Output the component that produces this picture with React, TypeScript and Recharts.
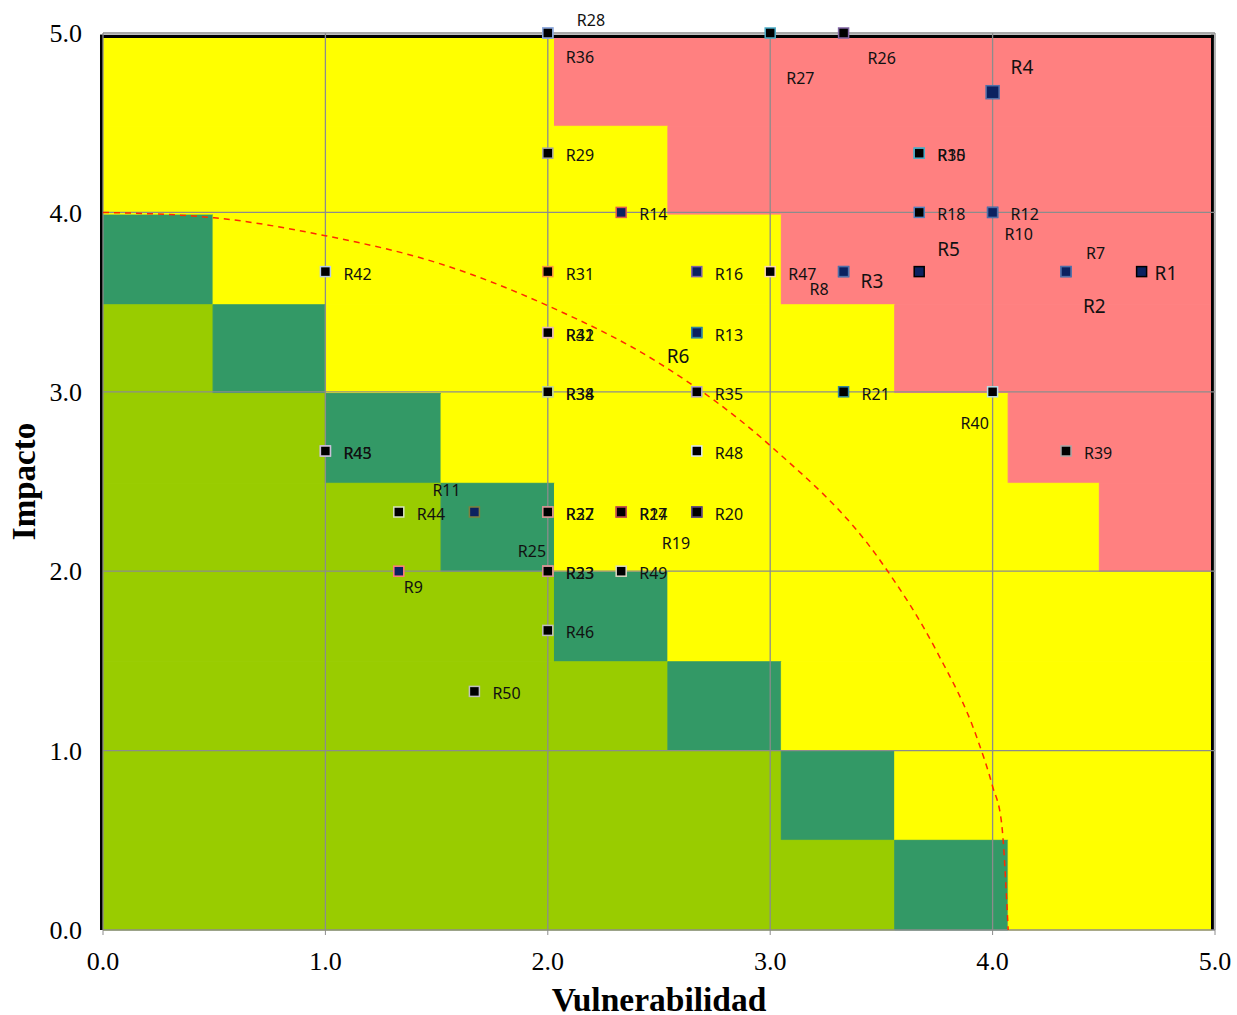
import React from 'react'
import {
  ScatterChart,
  Scatter,
  XAxis,
  YAxis,
  ReferenceArea,
  ReferenceLine,
  Label,
} from 'recharts'

// riesgos: vulnerabilidad (x) e impacto (y)
const riskNames = [
  'R1', 'R2', 'R3', 'R4', 'R5', 'R6', 'R7', 'R8', 'R9', 'R10',
  'R11', 'R12', 'R13', 'R14', 'R15', 'R16', 'R17', 'R18', 'R19', 'R20',
  'R21', 'R22', 'R23', 'R24', 'R25', 'R26', 'R27', 'R28', 'R29', 'R30',
  'R31', 'R32', 'R33', 'R34', 'R35', 'R36', 'R37', 'R38', 'R39', 'R40',
  'R41', 'R42', 'R43', 'R44', 'R45', 'R46', 'R47', 'R48', 'R49', 'R50',
]
const vulnerabilidad = [
  4.67, 4.33, 3.33, 4.0, 3.67, 2.67, 4.33, 3.33, 1.33, 4.0,
  1.67, 4.0, 2.67, 2.33, 3.67, 2.67, 2.33, 3.67, 2.67, 2.67,
  3.33, 2.0, 2.0, 2.33, 2.0, 3.33, 3.0, 2.0, 2.0, 3.67,
  2.0, 2.0, 2.0, 2.0, 2.67, 2.0, 2.0, 2.0, 4.33, 4.0,
  2.0, 1.0, 1.0, 1.33, 1.0, 2.0, 3.0, 2.67, 2.33, 1.67,
]
const impacto = [
  3.67, 3.67, 3.67, 4.67, 3.67, 3.33, 3.67, 3.67, 2.0, 4.0,
  2.33, 4.0, 3.33, 4.0, 4.33, 3.67, 2.33, 4.0, 2.33, 2.33,
  3.0, 2.33, 2.0, 2.33, 2.0, 5.0, 5.0, 5.0, 4.33, 4.33,
  3.67, 3.33, 2.0, 3.0, 3.0, 5.0, 2.33, 3.0, 2.67, 3.0,
  3.33, 3.67, 2.67, 2.33, 2.67, 1.67, 3.67, 2.67, 2.0, 1.33,
]

// curva de tolerancia
const curveVuln = [0, 0.5, 1.0, 1.5, 2.0, 2.5, 3.0, 3.5, 3.75, 3.93, 4.0, 4.04, 4.07]
const curveImp = [4.0, 3.97, 3.87, 3.72, 3.48, 3.16, 2.7, 2.05, 1.55, 1.07, 0.8, 0.6, 0.0]

// zonas de fondo: bordes de columnas/filas y codigo de cada celda (fila de arriba primero)
const zoneColEdges = [0, 0.495, 1.0, 1.52, 2.03, 2.54, 3.05, 3.56, 4.07, 4.48, 4.985]
const zoneRowEdges = [4.975, 4.48, 3.985, 3.485, 2.99, 2.49, 1.995, 1.495, 1.0, 0.5, 0]
const zoneRows = [
  'YYYYRRRRRR',
  'YYYYYRRRRR',
  'DYYYYYRRRR',
  'GDYYYYYRRR',
  'GGDYYYYYRR',
  'GGGDYYYYYR',
  'GGGGDYYYYY',
  'GGGGGDYYYY',
  'GGGGGGDYYY',
  'GGGGGGGDYY',
]

const axisTicks = [0, 1, 2, 3, 4, 5]

const zoneColors: Record<string, string> = {
  Y: '#FFFF00',
  R: '#FF8080',
  G: '#99CC00',
  D: '#339966',
}

const NAVY = '#0B2160'
const GRID = '#8C8C8C'

const markerLook: Record<string, [string, string]> = {
  R1: [NAVY, '#000000'], R2: [NAVY, '#4F6FA8'], R3: [NAVY, '#4F6FA8'],
  R4: [NAVY, '#4F6FA8'], R5: [NAVY, '#000000'], R6: [NAVY, '#31859C'],
  R7: [NAVY, '#4F6FA8'], R8: [NAVY, '#4F6FA8'], R9: [NAVY, '#FF7C80'],
  R10: [NAVY, '#4F6FA8'], R11: [NAVY, '#7F7F3F'], R12: [NAVY, '#4F6FA8'],
  R13: [NAVY, '#31859C'], R14: [NAVY, '#E05A4F'], R15: ['#000', '#4BACC6'],
  R16: [NAVY, '#8064A2'], R17: ['#000', '#C0504D'], R18: ['#000', '#4F81BD'],
  R19: ['#000', '#604A7B'], R20: ['#000', '#604A7B'], R21: ['#000', '#31859C'],
  R22: ['#000', '#D99694'], R23: ['#000', '#D99694'], R24: ['#000', '#C0504D'],
  R25: ['#000', '#D99694'], R26: ['#000', '#8064A2'], R27: ['#000', '#4BACC6'],
  R28: ['#000', '#8EA9DB'], R29: ['#000', '#A6A6A6'], R30: ['#000', '#4BACC6'],
  R31: ['#000', '#F79646'], R32: ['#000', '#E6B9B8'], R33: ['#000', '#D99694'],
  R34: ['#000', '#C4D79B'], R35: ['#000', '#B3A2C7'], R36: ['#000', '#8EA9DB'],
  R37: ['#000', '#D99694'], R38: ['#000', '#C4D79B'], R39: ['#000', '#A6A6A6'],
  R40: ['#000', '#B7DEE8'], R41: ['#000', '#E6B9B8'], R42: ['#000', '#B9CDE5'],
  R43: ['#000', '#CCC0DA'], R44: ['#000', '#D7E4BD'], R45: ['#000', '#CCC0DA'],
  R46: ['#000', '#BFBFBF'], R47: ['#000', '#FCD5B5'], R48: ['#000', '#DCE6F2'],
  R49: ['#000', '#DDD9C3'], R50: ['#000', '#BFBFBF'],
}

// desplazamiento de etiquetas en px (dx hasta borde izq., dy hasta centro)
const labelOffset: Record<string, [number, number]> = {
  R1: [13, 1], R2: [17, 34], R3: [17, 9], R4: [18, -25], R5: [18, -23],
  R6: [-30, 23], R7: [20, -19], R8: [-34, 17], R9: [5, 16], R10: [12, 22],
  R11: [-42, -22], R19: [-35, 31], R25: [-30, -20], R26: [24, 25],
  R27: [16, 45], R28: [29, -13], R36: [18, 24], R40: [-32, 31],
}
const bigLabels = ['R1', 'R2', 'R3', 'R4', 'R5', 'R6']

const riskData = riskNames.map((name, i) => ({ name, x: vulnerabilidad[i], y: impacto[i] }))
const curveData = curveVuln.map((x, i) => ({ x, y: curveImp[i] }))

// agrupa celdas contiguas del mismo color por fila
const zoneRects: { x1: number; x2: number; y1: number; y2: number; c: string }[] = []
zoneRows.forEach((row, r) => {
  let start = 0
  for (let c = 1; c <= row.length; c++) {
    if (c === row.length || row[c] !== row[start]) {
      zoneRects.push({
        x1: zoneColEdges[start],
        x2: zoneColEdges[c],
        y1: zoneRowEdges[r + 1],
        y2: zoneRowEdges[r],
        c: zoneColors[row[start]],
      })
      start = c
    }
  }
})

const RiskMarker = (props: any) => {
  const { cx, cy, payload } = props
  if (cx == null || cy == null) return <g />
  const look = markerLook[payload.name] || ['#000', '#999']
  const s = payload.name === 'R4' ? 13 : 10
  return (
    <rect x={cx - s / 2} y={cy - s / 2} width={s} height={s}
      fill={look[0]} stroke={look[1]} strokeWidth={1.5} />
  )
}

const RiskLabel = (props: any) => {
  const { cx, cy, payload } = props
  if (cx == null || cy == null) return <g />
  const [dx, dy] = labelOffset[payload.name] || [18, 2]
  const big = bigLabels.includes(payload.name)
  return (
    <text x={cx + dx} y={cy + dy} dominantBaseline="central"
      fontFamily="'Noto Sans', sans-serif" fontSize={big ? 19 : 16} fill="#111">
      {payload.name}
    </text>
  )
}

const XTitle = ({ viewBox }: any) => (
  <text x={viewBox.x + viewBox.width / 2} y={viewBox.y + 69} textAnchor="middle"
    dominantBaseline="central" fontFamily="'Liberation Serif', serif"
    fontWeight="bold" fontSize={33.5} fill="#000">
    Vulnerabilidad
  </text>
)

const YTitle = ({ viewBox }: any) => {
  const x = viewBox.x + 1
  const y = viewBox.y + viewBox.height / 2
  return (
    <text x={x} y={y} textAnchor="middle" dominantBaseline="central"
      transform={`rotate(-90, ${x}, ${y})`} fontFamily="'Liberation Serif', serif"
      fontWeight="bold" fontSize={33} fill="#000">
      Impacto
    </text>
  )
}

const tickStyle = { fontFamily: "'Liberation Serif', serif", fontSize: 26, fill: '#000' }
const fmt = (v: number) => v.toFixed(1)

export default function App() {
  return (
    <div style={{ position: 'absolute', left: 0, top: 0, width: 1237, height: 1015, background: '#fff' }}>
      <ScatterChart width={1237} height={1015} margin={{ top: 33, right: 22, bottom: 25, left: 23 }}>
        <XAxis type="number" dataKey="x" domain={[0, 5]} ticks={axisTicks} tickFormatter={fmt}
          interval={0} axisLine={false} tickLine={{ stroke: GRID }} tickSize={5} tickMargin={17}
          height={60} tick={tickStyle}>
          <Label content={XTitle} />
        </XAxis>
        <YAxis type="number" dataKey="y" domain={[0, 5]} ticks={axisTicks} tickFormatter={fmt}
          interval={0} axisLine={false} tickLine={false} tickSize={5} tickMargin={16}
          width={80} tick={tickStyle}>
          <Label content={YTitle} />
        </YAxis>

        {zoneRects.map((z, i) => (
          <ReferenceArea key={'z' + i} x1={z.x1} x2={z.x2} y1={z.y1} y2={z.y2}
            fill={z.c} fillOpacity={1} stroke={z.c} strokeWidth={1} ifOverflow="visible" />
        ))}

        {/* marco negro de la imagen de fondo */}
        <ReferenceArea x1={-0.0135} x2={0} y1={0} y2={4.99} fill="#000" fillOpacity={1} ifOverflow="visible" />
        <ReferenceArea x1={-0.0135} x2={4.995} y1={4.972} y2={4.99} fill="#000" fillOpacity={1} ifOverflow="visible" />
        <ReferenceArea x1={4.982} x2={4.995} y1={0} y2={4.99} fill="#000" fillOpacity={1} ifOverflow="visible" />

        {axisTicks.map((t) => (
          <ReferenceLine key={'gx' + t} x={t} stroke={GRID} strokeWidth={1.3} ifOverflow="visible" />
        ))}
        {axisTicks.map((t) => (
          <ReferenceLine key={'gy' + t} y={t} stroke={GRID} strokeWidth={1.3} ifOverflow="visible" />
        ))}

        <Scatter data={curveData} shape={() => <g />} isAnimationActive={false}
          line={{ stroke: '#FF2A00', strokeWidth: 1.5, strokeDasharray: '6 5' }}
          lineJointType="monotoneX" />
        <Scatter data={riskData} shape={RiskMarker} isAnimationActive={false} />
        <Scatter data={riskData} shape={RiskLabel} isAnimationActive={false} />
      </ScatterChart>
    </div>
  )
}
